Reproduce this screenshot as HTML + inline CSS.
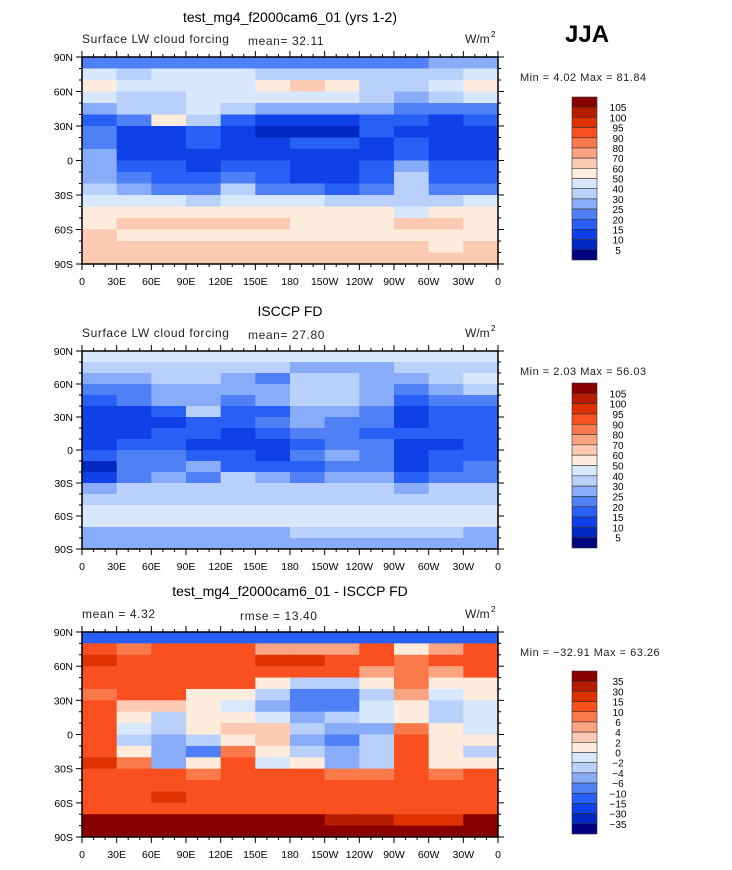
<!DOCTYPE html>
<html><head><meta charset="utf-8"><style>
body{margin:0;background:#fff;}
svg text{font-family:"Liberation Sans",sans-serif;}
</style></head><body>
<svg id="fig" width="732" height="865" xmlns="http://www.w3.org/2000/svg"></svg>
<script>
const lonLabels=["0","30E","60E","90E","120E","150E","180","150W","120W","90W","60W","30W","0"];
const latLabels=["90N","60N","30N","0","30S","60S","90S"];
const levels1=[5,10,15,20,25,30,40,50,60,70,80,90,95,100,105];
const levels3=[-35,-30,-15,-10,-6,-4,-2,0,2,4,6,10,15,30,35];
const colors=["#000080","#0028c0","#1040e8","#2860f5","#5080f5","#88acf8","#b8d0fa","#d8e8fc","#fdebdc","#fccab2","#fba482","#fb7a4c","#fa5020","#e03200","#b81c00","#880000"];
const panel1=[
[20,20,20,20,20,20,20,20,20,20,25,25],
[40,35,40,45,40,35,30,30,35,30,30,45],
[55,45,40,40,45,55,60,55,35,30,40,55],
[40,35,35,40,40,40,45,45,30,25,30,40],
[25,30,35,40,30,25,25,25,25,20,20,20],
[15,20,50,30,15,12,12,12,15,15,12,15],
[20,12,12,15,10,8,8,8,15,12,10,10],
[20,12,12,15,12,12,15,15,12,15,12,12],
[25,12,12,12,12,12,12,12,12,15,12,12],
[25,15,15,12,15,15,12,12,15,25,15,15],
[25,20,15,15,20,15,12,12,15,30,15,15],
[35,25,20,20,30,20,20,15,20,35,20,20],
[40,40,40,35,40,40,40,30,35,35,30,40],
[55,55,55,55,55,55,55,55,55,40,50,55],
[55,60,60,60,60,60,55,55,55,60,60,55],
[60,55,55,55,55,55,55,55,55,55,50,55],
[65,65,65,65,65,65,65,60,65,60,55,60],
[65,65,65,65,65,65,65,65,65,65,65,65]];
const panel2=[
[45,45,45,45,45,45,45,45,45,45,45,45],
[30,30,30,30,30,30,25,25,25,30,30,30],
[25,25,30,30,25,20,30,35,25,25,30,40],
[20,20,25,25,25,25,30,30,25,20,25,30],
[15,20,25,25,20,25,30,30,25,15,20,20],
[10,10,15,30,15,15,25,25,20,10,15,15],
[10,10,10,15,15,20,25,20,20,12,15,15],
[10,12,15,15,12,15,20,20,15,15,15,15],
[10,15,15,12,10,10,15,20,20,10,12,15],
[15,20,20,15,15,12,20,25,20,12,15,15],
[8,20,20,25,15,15,15,20,20,12,15,20],
[12,20,25,20,30,25,20,25,25,15,20,20],
[25,30,30,30,30,30,30,30,30,25,30,30],
[35,35,35,35,35,35,35,35,35,35,35,35],
[40,40,40,40,40,40,40,40,40,40,40,45],
[40,40,40,40,40,40,40,40,40,40,40,40],
[25,25,25,25,25,25,30,30,30,30,30,25],
[25,25,25,25,25,25,25,25,25,25,25,25]];
const panel3=[
[-15,-15,-15,-15,-15,-15,-15,-15,-15,-15,-15,-15],
[10,8,10,12,10,5,5,5,10,0,5,10],
[20,12,10,10,12,20,20,12,10,6,10,12],
[12,12,10,12,12,12,12,12,5,6,5,10],
[10,10,10,12,10,0,-4,-4,0,6,0,0],
[6,10,12,0,0,-4,-10,-10,-4,5,-2,0],
[10,2,2,0,-2,-6,-10,-10,-2,0,-4,-2],
[10,0,-4,0,0,-2,-6,-4,-2,0,-4,-2],
[12,-2,-4,0,2,2,-4,-6,-6,6,0,-2],
[10,-4,-6,-4,0,2,-6,-10,-4,12,0,0],
[12,0,-6,-10,6,0,-4,-6,-4,12,0,-4],
[20,6,-6,0,10,-2,0,-6,-4,12,0,0],
[12,10,10,6,10,10,10,6,6,10,6,10],
[12,12,12,12,12,12,12,12,12,10,12,12],
[12,12,20,12,12,12,12,12,12,12,12,12],
[12,12,12,12,12,12,12,12,12,12,10,12],
[35,35,35,35,35,35,35,30,30,20,20,35],
[40,40,40,40,40,40,40,40,40,40,40,40]];
const NS="http://www.w3.org/2000/svg";
const svg=document.getElementById('fig');
function mk(tag,attrs,parent){const e=document.createElementNS(NS,tag);for(const k in attrs)e.setAttribute(k,attrs[k]);(parent||svg).appendChild(e);return e;}
function txt(x,y,s,size,anchor,parent,extra){const t=mk('text',Object.assign({x:x,y:y,'font-size':size,'text-anchor':anchor||'start',fill:'#000'},extra||{}),parent);t.textContent=s;return t;}
function colorFor(v,lev){let i=0;while(i<lev.length&&v>=lev[i])i++;return colors[i];}
const panels=[
 {data:panel1,lev:levels1,top:57,bot:264,title:"test_mg4_f2000cam6_01 (yrs 1-2)",ty:22,left:"Surface LW cloud forcing",mid:"mean=  32.11",midx:248,mm:"Min =    4.02 Max =  81.84",cbTop:97,cbBot:260},
 {data:panel2,lev:levels1,top:351,bot:549,title:"ISCCP FD",ty:316,left:"Surface LW cloud forcing",mid:"mean=  27.80",midx:248,mm:"Min =    2.03 Max =  56.03",cbTop:383,cbBot:548},
 {data:panel3,lev:levels3,top:632,bot:837,title:"test_mg4_f2000cam6_01 - ISCCP FD",ty:596,left:"mean =    4.32",mid:"rmse =   13.40",midx:240,mm:"Min = \u221232.91 Max =  63.26",cbTop:671,cbBot:834}
];
const X0=82,X1=498;
panels.forEach((p,pi)=>{
 const g=mk('g',{});
 
 
 const rows=p.data.length,cols=p.data[0].length;
 const xs=lon=>X0+(X1-X0)*lon/360;
 const ys=lat=>p.top+(p.bot-p.top)*(90-lat)/180;
 p.data.forEach((row,r)=>row.forEach((v,c)=>{
  const x=xs(c*360/cols),y=ys(90-r*180/rows);
  const rc=mk('rect',{x:x,y:y,width:xs((c+1)*360/cols)-x+0.5,height:ys(90-(r+1)*180/rows)-y+0.5,fill:colorFor(v,p.lev)},g);
  
  
 }));
 mk('rect',{x:X0,y:p.top,width:X1-X0,height:p.bot-p.top,fill:'none',stroke:'#000','stroke-width':1.5},g);
 for(let lon=0;lon<=360;lon+=10){const x=xs(lon),L=lon%30==0?6:3;
  mk('line',{x1:x,y1:p.top,x2:x,y2:p.top-L,stroke:'#000','stroke-width':1},g);
  mk('line',{x1:x,y1:p.bot,x2:x,y2:p.bot+L,stroke:'#000','stroke-width':1},g);}
 for(let lat=-90;lat<=90;lat+=10){const y=ys(lat),L=lat%30==0?6:3;
  mk('line',{x1:X0,y1:y,x2:X0-L,y2:y,stroke:'#000','stroke-width':1},g);
  mk('line',{x1:X1,y1:y,x2:X1+L,y2:y,stroke:'#000','stroke-width':1},g);}
 lonLabels.forEach((s,i)=>{const t=txt(xs(i*30),p.bot+21,s,10.5,'middle',g);});
 latLabels.forEach((s,i)=>{const t=txt(X0-9,ys(90-i*30)+4,s,10.5,'end',g);});
 let t=txt(290,p.ty,p.title,14,'middle',g);
 t=txt(82,p.top-14,p.left,12,'start',g,{fill:'#222','letter-spacing':'0.6'});
 t=txt(p.midx,p.top-12,p.mid,12,'start',g,{fill:'#222','letter-spacing':'0.6','xml:space':'preserve'});
 t=txt(465,p.top-14,"W/m",12,'start',g,{fill:'#222'});
 txt(491,p.top-20,"2",8,'start',g);
 t=txt(520,p.top+24,p.mm,11,'start',g,{fill:'#222','letter-spacing':'0.5','xml:space':'preserve'});
 const n=p.lev.length+1,h=(p.cbBot-p.cbTop)/n;
 const cb=mk('g',{},g);
 
 
 for(let i=0;i<n;i++){
  const rc=mk('rect',{x:572,y:p.cbTop+i*h,width:25,height:h,fill:colors[n-1-i],stroke:'#333','stroke-width':0.6},cb);
  
  
 }
 for(let i=0;i<p.lev.length;i++){
  const v=p.lev[p.lev.length-1-i];
  const lt=txt(618,p.cbTop+(i+1)*h+4,String(v).replace('-','\u2212'),10,'middle',cb);
  
  
 }
});
const jja=txt(565,42,"JJA",24,'start',svg,{'font-weight':'bold'});


</script>
</body></html>
